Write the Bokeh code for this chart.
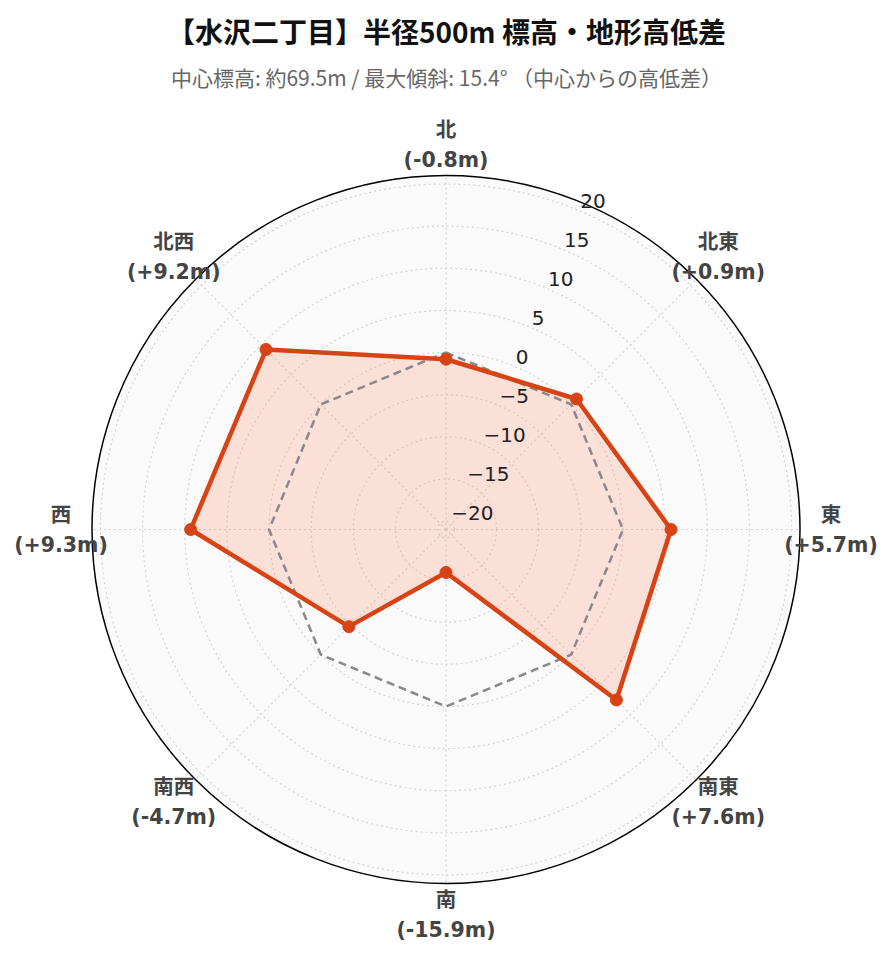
import math
from bokeh.plotting import figure
from bokeh.models import Range1d
from bokeh.core.properties import value
from bokeh.embed import file_html
from bokeh.resources import INLINE

# ---- data ----
directions = ["北", "北東", "東", "南東", "南", "南西", "西", "北西"]
diffs = [-0.8, 0.9, 5.7, 7.6, -15.9, -4.7, 9.3, 9.2]
reference = [0, 0, 0, 0, 0, 0, 0, 0]
tick_values = [-20, -15, -10, -5, 0, 5, 10, 15, 20]
r_min, r_max = -21, 21
title = "【水沢二丁目】半径500m 標高・地形高低差"
subtitle = "中心標高: 約69.5m / 最大傾斜: 15.4° （中心からの高低差）"

# ---- layout ----
W, H = 885, 954
cx, cy = 445.5, 529.0
R = 354.0
step = 360.0 / len(directions)

p = figure(width=W, height=H, output_backend="svg", toolbar_location=None,
           x_range=Range1d(0, W), y_range=Range1d(H, 0),
           min_border=0, outline_line_color=None,
           background_fill_color="white", border_fill_color="white")
p.axis.visible = False
p.grid.visible = False


def dist(r):
    return (r - r_min) / (r_max - r_min) * R


def polar(r, ang):
    d = dist(r)
    a = math.radians(ang)
    return cx + d * math.sin(a), cy - d * math.cos(a)


angles = [i * step for i in range(len(directions))]

# background disk
p.circle(x=[cx], y=[cy], radius=R, fill_color="#fafafa", line_color=None)

# grid circles
p.circle(x=[cx] * len(tick_values), y=[cy] * len(tick_values),
         radius=[dist(t) for t in tick_values],
         fill_color=None, line_color="#d6d6d6", line_width=1.2, line_dash="2 3")

# angular grid lines
p.multi_line(xs=[[cx, polar(r_max, a)[0]] for a in angles],
             ys=[[cy, polar(r_max, a)[1]] for a in angles],
             line_color="#d6d6d6", line_width=1.2, line_dash="2 3")

# outer boundary
p.circle(x=[cx], y=[cy], radius=R, fill_color=None, line_color="black", line_width=1.5)

# data polygon
pts = [polar(v, a) for v, a in zip(diffs, angles)]
xs = [q[0] for q in pts]
ys = [q[1] for q in pts]
p.patch(xs, ys, fill_color="#ff7a50", fill_alpha=0.2, line_color=None)

# zero reference (dashed)
ref = [polar(v, a) for v, a in zip(reference, angles)]
p.line([q[0] for q in ref] + [ref[0][0]], [q[1] for q in ref] + [ref[0][1]],
       line_color="#888888", line_width=2.5, line_dash="8 5")

p.line(xs + [xs[0]], ys + [ys[0]], line_color="#d84315", line_width=4.5,
       line_join="round")
p.scatter(xs, ys, size=12, fill_color="#d84315", line_color="#d84315")

# radial tick labels
tick_angle = step / 2
tx, ty = [], []
for t in tick_values:
    x, y = polar(t, tick_angle)
    tx.append(x + 2)
    ty.append(y - 9)
p.text(x=tx, y=ty, text=[str(t).replace("-", "\u2212") for t in tick_values],
       text_font=value("DejaVu Sans"), text_font_size="20px", text_color="#222222",
       text_align="left", text_baseline="middle")

# direction labels
lab_d = 385.0
lx, ly1, ly2, names, vals = [], [], [], [], []
for name, v, a in zip(directions, diffs, angles):
    ar = math.radians(a)
    x = cx + lab_d * math.sin(ar)
    y = cy - lab_d * math.cos(ar)
    lx.append(x)
    ly1.append(y - 15)
    ly2.append(y + 15)
    names.append(name)
    vals.append(f"({v:+.1f}m)")
font_lab = value("'DejaVu Sans', 'Noto Sans CJK JP'")
p.text(x=lx, y=ly1, text=names, text_font=font_lab, text_font_size="20.5px",
       text_font_style="bold", text_color="#444444",
       text_align="center", text_baseline="middle")
p.text(x=lx, y=ly2, text=vals, text_font=font_lab, text_font_size="20.5px",
       text_font_style="bold", text_color="#444444",
       text_align="center", text_baseline="middle")

# titles
p.text(x=[446], y=[30], text=[title], text_font=value("Noto Sans CJK JP"),
       text_font_size="28px", text_font_style="bold", text_color="#111111",
       text_align="center", text_baseline="middle")
p.text(x=[446], y=[76], text=[subtitle], text_font=value("Noto Sans CJK JP"),
       text_font_size="21px", text_color="#666666",
       text_align="center", text_baseline="middle")

open("out.html", "w").write(file_html(p, INLINE))
